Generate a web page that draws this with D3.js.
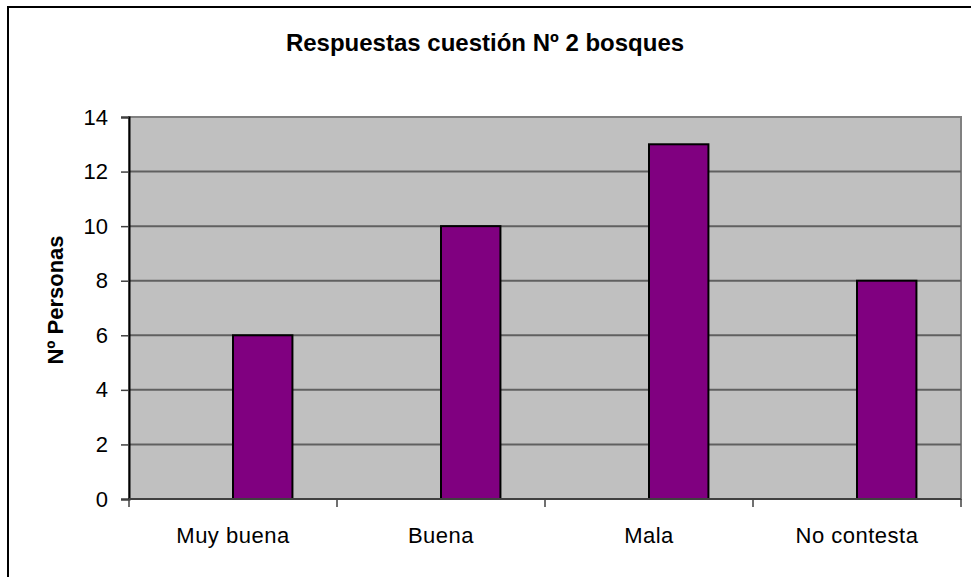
<!DOCTYPE html>
<html>
<head>
<meta charset="utf-8">
<script src="https://cdn.jsdelivr.net/npm/d3@7"></script>
<style>
  body { margin: 0; background: #fff; }
  text { font-family: "Liberation Sans", Arial, sans-serif; fill: #000; }
</style>
</head>
<body>
<svg id="chart" width="971" height="577"></svg>
<script>
// chart data
var categories = ["Muy buena", "Buena", "Mala", "No contesta"];
var series = ["", "Nº Personas"];   // first series is empty in the original
var values = [6, 10, 13, 8];
var yTicks = [0, 2, 4, 6, 8, 10, 12, 14];
var title = "Respuestas cuestión Nº 2 bosques";
var yTitle = "Nº Personas";

var svg = d3.select("#chart");
var plotL = 129, plotR = 961, plotT = 117, plotB = 499;

// outer frame (only left and top visible)
svg.append("path")
  .attr("d", "M8,577 L8,7 L971,7")
  .attr("fill", "none").attr("stroke", "#000").attr("stroke-width", 2);

svg.append("text")
  .attr("x", 485).attr("y", 51)
  .attr("text-anchor", "middle")
  .style("font-size", "24px").style("font-weight", "bold")
  .text(title);

var x0 = d3.scaleBand().domain(categories).range([plotL, plotR]);
var x1 = d3.scaleBand().domain(d3.range(series.length))
  .range([0, x0.bandwidth()]).paddingInner(0).paddingOuter(0.75);
var y = d3.scaleLinear().domain([0, 14]).range([plotB, plotT]);

// plot background
svg.append("rect")
  .attr("x", plotL).attr("y", plotT)
  .attr("width", plotR - plotL).attr("height", plotB - plotT)
  .attr("fill", "#c0c0c0").attr("stroke", "#808080").attr("stroke-width", 2);

// gridlines
svg.append("g").selectAll("line")
  .data(yTicks.filter(function(d) { return d > 0 && d < 14; }))
  .enter().append("line")
  .attr("x1", plotL).attr("x2", plotR)
  .attr("y1", function(d) { return y(d); })
  .attr("y2", function(d) { return y(d); })
  .attr("stroke", "#606060").attr("stroke-width", 2);

// bars (second series)
svg.append("g").selectAll("rect")
  .data(values)
  .enter().append("rect")
  .attr("x", function(d, i) { return x0(categories[i]) + x1(1); })
  .attr("y", function(d) { return y(d); })
  .attr("width", x1.bandwidth())
  .attr("height", function(d) { return plotB - y(d); })
  .attr("fill", "#800080").attr("stroke", "#000").attr("stroke-width", 2);

// y axis
var yAxis = svg.append("g")
  .attr("transform", "translate(" + plotL + ",0)")
  .call(d3.axisLeft(y).tickValues(yTicks).tickSize(8).tickPadding(13));
yAxis.select(".domain").attr("stroke", "#000").attr("stroke-width", 2);
yAxis.selectAll(".tick line").attr("stroke", "#404040").attr("stroke-width", 1.5);
yAxis.selectAll("text").style("font-size", "22px").attr("fill", "#000");

// x axis: ticks at category boundaries
var xAxis = svg.append("g")
  .attr("transform", "translate(0," + plotB + ")");
xAxis.append("line")
  .attr("x1", plotL).attr("x2", plotR)
  .attr("stroke", "#404040").attr("stroke-width", 2);
xAxis.selectAll(".bound")
  .data(d3.range(categories.length + 1))
  .enter().append("line")
  .attr("x1", function(i) { return plotL + i * x0.step(); })
  .attr("x2", function(i) { return plotL + i * x0.step(); })
  .attr("y1", 0).attr("y2", 8)
  .attr("stroke", "#404040").attr("stroke-width", 1.5);
xAxis.selectAll("text")
  .data(categories)
  .enter().append("text")
  .attr("x", function(d) { return x0(d) + x0.bandwidth() / 2; })
  .attr("y", 44)
  .attr("text-anchor", "middle")
  .style("font-size", "22px").style("letter-spacing", "0.5px")
  .text(function(d) { return d; });

svg.append("text")
  .attr("transform", "translate(63,300) rotate(-90)")
  .attr("text-anchor", "middle")
  .style("font-size", "22px").style("font-weight", "bold")
  .text(yTitle);
</script>
</body>
</html>
